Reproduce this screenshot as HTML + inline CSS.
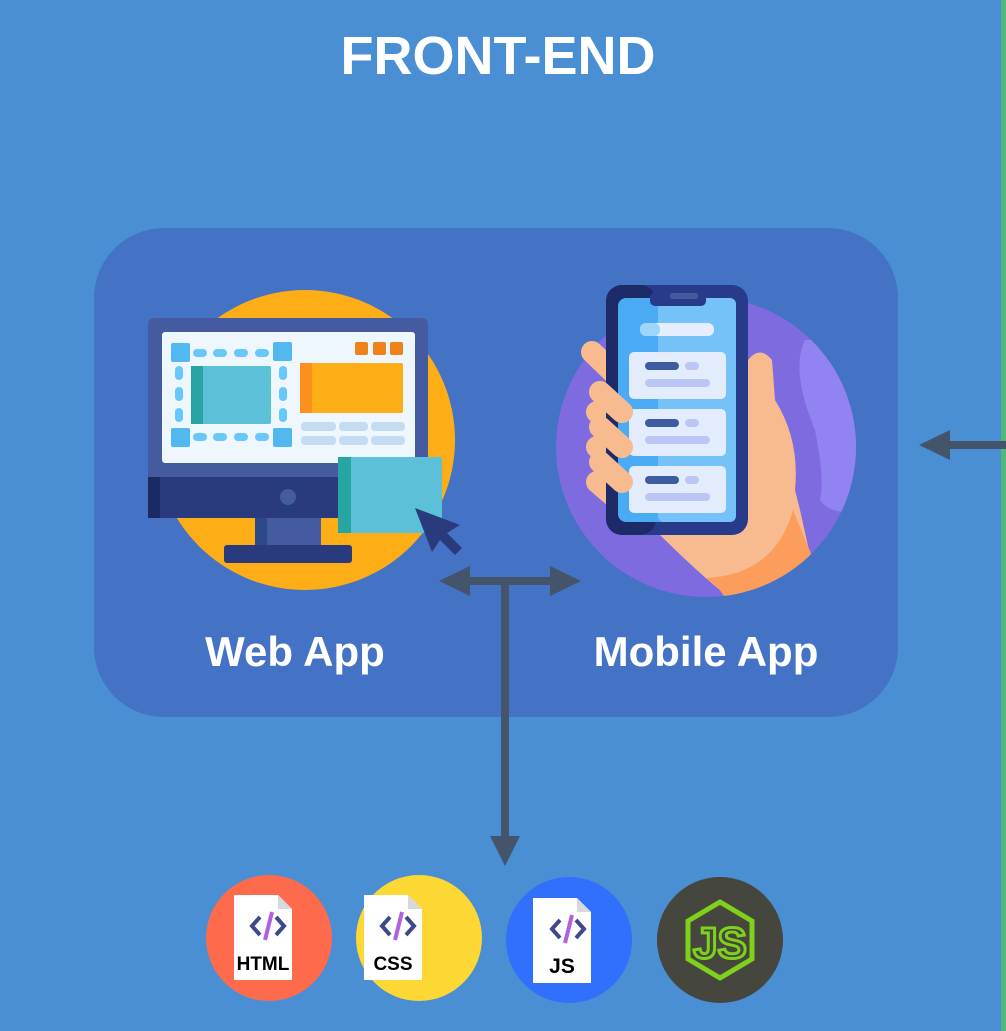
<!DOCTYPE html>
<html><head><style>
html,body{margin:0;padding:0;background:#4a8fd4;}
svg{display:block}
text{font-family:"Liberation Sans",sans-serif;font-weight:bold}
</style></head><body>
<svg width="1006" height="1031" viewBox="0 0 1006 1031" xmlns="http://www.w3.org/2000/svg">
<defs><clipPath id="mc"><circle cx="706" cy="447" r="150"/></clipPath></defs>
<rect width="1006" height="1031" fill="#4a8fd4"/>
<rect x="1001" y="0" width="5" height="1031" fill="#4fb87a"/>
<text x="498" y="74" font-size="54" fill="#fff" text-anchor="middle">FRONT-END</text>
<rect x="94" y="228" width="804" height="489" rx="70" fill="#4472c4"/>

<!-- web app -->
<circle cx="305" cy="440" r="150" fill="#fdae17"/>
<rect x="148" y="318" width="280" height="200" rx="6" fill="#445c9f"/>
<rect x="148" y="477" width="280" height="41" fill="#293b7c"/>
<rect x="148" y="477" width="12" height="41" fill="#1c2a63"/>
<circle cx="288" cy="497" r="8" fill="#445c9f"/>
<rect x="162" y="332" width="253" height="131" rx="3" fill="#eef6fe"/>
<rect x="255" y="518" width="66" height="27" fill="#445c9f"/>
<rect x="255" y="518" width="12" height="27" fill="#2c4a8a"/>
<rect x="224" y="545" width="128" height="18" rx="3" fill="#293b7c"/>
<g fill="#52b8f0">
<rect x="171" y="343" width="19" height="19" rx="2"/><rect x="273" y="342" width="19" height="19" rx="2"/>
<rect x="171" y="428" width="19" height="19" rx="2"/><rect x="273" y="428" width="19" height="19" rx="2"/>
</g>
<g fill="#68c8fc">
<rect x="193" y="349" width="14" height="8" rx="4"/><rect x="213" y="349" width="14" height="8" rx="4"/><rect x="234" y="349" width="14" height="8" rx="4"/><rect x="255" y="349" width="14" height="8" rx="4"/>
<rect x="193" y="433" width="14" height="8" rx="4"/><rect x="213" y="433" width="14" height="8" rx="4"/><rect x="234" y="433" width="14" height="8" rx="4"/><rect x="255" y="433" width="14" height="8" rx="4"/>
<rect x="175" y="366" width="8" height="14" rx="4"/><rect x="175" y="387" width="8" height="14" rx="4"/><rect x="175" y="408" width="8" height="14" rx="4"/>
<rect x="279" y="366" width="8" height="14" rx="4"/><rect x="279" y="387" width="8" height="14" rx="4"/><rect x="279" y="408" width="8" height="14" rx="4"/>
</g>
<rect x="191" y="366" width="80" height="58" rx="2" fill="#5bc0d8"/>
<rect x="191" y="366" width="12" height="58" fill="#27a5a3"/>
<rect x="300" y="363" width="103" height="50" rx="2" fill="#fdae17"/>
<rect x="300" y="363" width="12" height="50" fill="#fb901c"/>
<g fill="#ef8218"><rect x="355" y="342" width="13" height="13" rx="2"/><rect x="373" y="342" width="13" height="13" rx="2"/><rect x="390" y="342" width="13" height="13" rx="2"/></g>
<g fill="#c3dcf2">
<rect x="301" y="422" width="35" height="9" rx="4"/><rect x="339" y="422" width="29" height="9" rx="4"/><rect x="371" y="422" width="34" height="9" rx="4"/>
<rect x="301" y="436" width="35" height="9" rx="4"/><rect x="339" y="436" width="29" height="9" rx="4"/><rect x="371" y="436" width="34" height="9" rx="4"/>
</g>
<rect x="338" y="457" width="104" height="76" rx="2" fill="#5bc0d8"/>
<rect x="338" y="457" width="13" height="76" fill="#27a5a3"/>
<path d="M415 508 L460 525 L447 533 L462 548 L455 555 L440 540 L432 552 Z" fill="#293b7c"/>
<text x="295" y="666" font-size="42" fill="#fff" text-anchor="middle">Web App</text>

<!-- mobile app -->
<circle cx="706" cy="447" r="150" fill="#7e6be0"/>
<g clip-path="url(#mc)">
<path d="M805 340 Q790 370 815 430 Q825 480 820 500 Q830 515 860 512 L860 340 Z" fill="#9184f2"/>
<path d="M655 525 L745 525 L748 360 Q760 345 772 360 L775 400 Q800 440 795 490 L800 510 L810 555 Q780 590 730 598 Q700 575 655 530 Z" fill="#f8bb90"/>
<path d="M793 510 L812 556 Q780 590 725 598 Q718 585 705 578 Q775 575 793 510 Z" fill="#fd9d5c"/>
</g>
<g stroke="#f8bb90" stroke-width="22" stroke-linecap="round">
<line x1="592" y1="352" x2="625" y2="384"/><line x1="597" y1="412" x2="625" y2="436"/><line x1="597" y1="447" x2="625" y2="471"/><line x1="597" y1="482" x2="625" y2="506"/>
</g>
<rect x="606" y="285" width="142" height="250" rx="16" fill="#283a8a"/>
<rect x="606" y="285" width="50" height="250" rx="16" fill="#1c2a68"/>
<rect x="656" y="285" width="10" height="250" fill="#283a8a"/>
<rect x="618" y="298" width="118" height="224" rx="8" fill="#4aaaf4"/>
<rect x="658" y="298" width="78" height="224" rx="6" fill="#74c2f8"/>
<rect x="650" y="292" width="56" height="14" rx="5" fill="#283a8a"/>
<rect x="670" y="293" width="28" height="6" rx="3" fill="#445c9f"/>
<rect x="640" y="323" width="74" height="13" rx="6" fill="#e6eefd"/>
<rect x="640" y="323" width="20" height="13" rx="6" fill="#9cd6fa"/>
<g>
<rect x="629" y="352" width="97" height="47" rx="5" fill="#e3ecfd"/>
<rect x="645" y="362" width="34" height="8" rx="4" fill="#3c5ba0"/><rect x="685" y="362" width="14" height="8" rx="4" fill="#bcc6f4"/><rect x="645" y="379" width="65" height="8" rx="4" fill="#bcc6f4"/>
<rect x="629" y="409" width="97" height="47" rx="5" fill="#e3ecfd"/>
<rect x="645" y="419" width="34" height="8" rx="4" fill="#3c5ba0"/><rect x="685" y="419" width="14" height="8" rx="4" fill="#bcc6f4"/><rect x="645" y="436" width="65" height="8" rx="4" fill="#bcc6f4"/>
<rect x="629" y="466" width="97" height="47" rx="5" fill="#e3ecfd"/>
<rect x="645" y="476" width="34" height="8" rx="4" fill="#3c5ba0"/><rect x="685" y="476" width="14" height="8" rx="4" fill="#bcc6f4"/><rect x="645" y="493" width="65" height="8" rx="4" fill="#bcc6f4"/>
</g>
<g stroke="#f8bb90" stroke-width="22" stroke-linecap="round">
<line x1="600" y1="392" x2="622" y2="412"/><line x1="600" y1="427" x2="622" y2="447"/><line x1="600" y1="462" x2="622" y2="482"/>
</g>
<text x="706" y="666" font-size="42" fill="#fff" text-anchor="middle">Mobile App</text>

<!-- connectors -->
<g fill="#44546a">
<rect x="460" y="577" width="100" height="8"/>
<polygon points="439,581 470,566 470,596"/>
<polygon points="581,581 550,566 550,596"/>
<rect x="501" y="581" width="8" height="260"/>
<polygon points="505,866 490,836 520,836"/>
<rect x="945" y="441" width="61" height="8"/>
<polygon points="919,445 950,430 950,460"/>
</g>

<!-- tech icons -->
<circle cx="269" cy="938" r="63" fill="#fe6a4c"/>
<circle cx="419" cy="938" r="63" fill="#fdd733"/>
<circle cx="569" cy="940" r="63" fill="#316ffd"/>
<circle cx="720" cy="940" r="63" fill="#45463e"/>
<g>
<path d="M234 895 H278 L292 909 V980 H234 Z" fill="#fff"/><path d="M278 895 L292 909 H278 Z" fill="#d6d8de"/>
<path d="M364 895 H408 L422 909 V980 H364 Z" fill="#fff"/><path d="M408 895 L422 909 H408 Z" fill="#d6d8de"/>
<path d="M533 898 H577 L591 912 V983 H533 Z" fill="#fff"/><path d="M577 898 L591 912 H577 Z" fill="#d6d8de"/>
</g>
<g fill="none" stroke-width="4">
<path d="M260 917 L252 926 L260 935 M276 917 L284 926 L276 935" stroke="#3c4a8c"/><line x1="272" y1="912" x2="265" y2="940" stroke="#b060e0"/>
<path d="M390 917 L382 926 L390 935 M406 917 L414 926 L406 935" stroke="#3c4a8c"/><line x1="402" y1="912" x2="395" y2="940" stroke="#b060e0"/>
<path d="M560 920 L552 929 L560 938 M576 920 L584 929 L576 938" stroke="#3c4a8c"/><line x1="572" y1="915" x2="565" y2="943" stroke="#b060e0"/>
</g>
<text x="263" y="970" font-size="19" fill="#000" text-anchor="middle">HTML</text>
<text x="393" y="970" font-size="19" fill="#000" text-anchor="middle">CSS</text>
<text x="562" y="973" font-size="21" fill="#000" text-anchor="middle">JS</text>
<polygon points="720,902 752,921 752,959 720,978 688,959 688,921" fill="none" stroke="#7fd11b" stroke-width="5"/>
<text x="720" y="958" font-size="44" fill="none" stroke="#7fd11b" stroke-width="3" font-weight="normal" text-anchor="middle">JS</text>
</svg>
</body></html>
